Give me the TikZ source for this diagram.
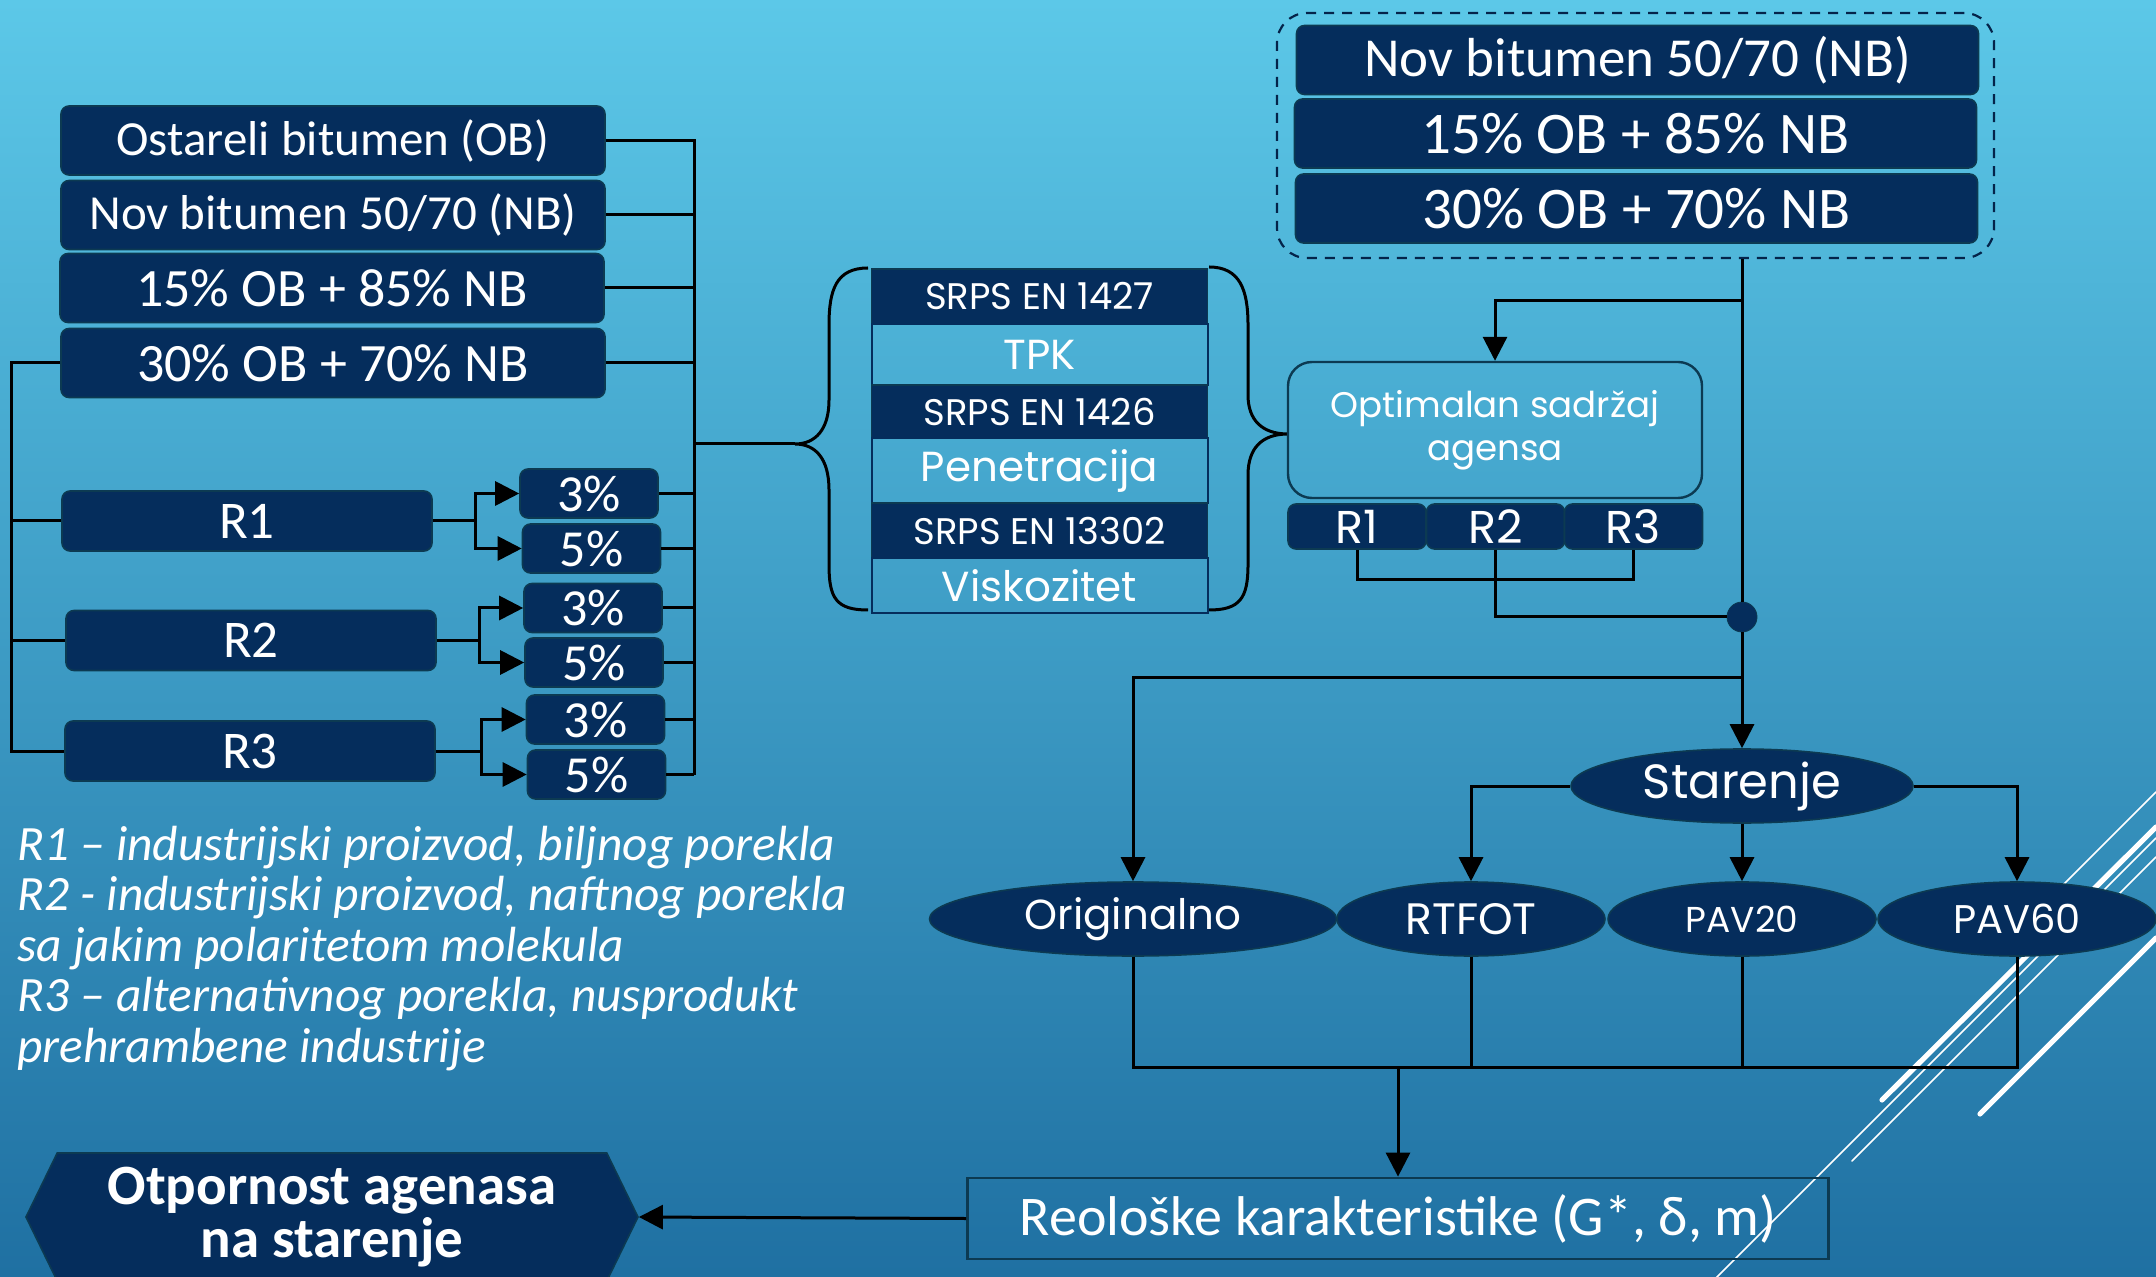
\documentclass[tikz,border=0pt]{standalone}
\usepackage{fontspec}
\setmainfont{Carlito}
\newfontfamily\geo{Poppins}
\usetikzlibrary{arrows.meta,shapes.geometric,shapes.symbols}
\definecolor{navy}{RGB}{5,45,92}
\definecolor{bordc}{RGB}{12,58,82}
\definecolor{bgtop}{RGB}{92,200,232}
\definecolor{bgbot}{RGB}{31,112,162}
\begin{document}
\begin{tikzpicture}[x=0.5pt,y=-0.5pt,
  navybox/.style={draw=bordc, fill=navy, text=white, rounded corners=4pt, inner sep=0pt, line width=0.8pt},
  leftbox/.style={navybox, minimum width=272pt, minimum height=34.5pt, font=\fontsize{24.5}{28}\selectfont},
  rbox/.style={navybox, minimum width=185pt, minimum height=30pt, font=\fontsize{26.5}{30}\selectfont},
  pbox/.style={navybox, minimum width=69pt, minimum height=24.5pt, font=\fontsize{26}{30}\selectfont},
  topbox/.style={navybox, minimum width=341pt, minimum height=34.5pt, font=\fontsize{29.5}{32}\selectfont},
  darkrow/.style={draw=bordc, fill=navy, text=white, inner sep=0pt, line width=0.8pt, minimum width=168pt, font=\geo\fontsize{18.5}{22}\selectfont},
  lightrow/.style={draw=navy, text=white, inner sep=0pt, line width=1pt, minimum width=168pt, font=\geo\fontsize{21}{24}\selectfont},
  ell/.style={ellipse, draw=bordc, fill=navy, text=white, inner sep=0pt, line width=0.8pt, minimum height=37pt},
  conn/.style={line width=1.5pt},
  arr/.style={conn, -{Triangle[length=12pt,width=12pt]}},
  deco/.style={white, line cap=round},
  legend/.style={text=white, inner sep=0pt, font=\itshape\fontsize{24.7}{26}\selectfont},
]
% background
\shade[top color=bgtop, bottom color=bgbot] (0,0) rectangle (2156,1277);
\useasboundingbox (0,0) rectangle (2156,1277);

% decorative lines
\draw[deco, line width=0.8pt] (2156,792) -- (2030,918);
\draw[deco, line width=2.6pt] (2156,827) -- (1882,1100);
\draw[deco, line width=0.8pt] (2156,838) -- (1712,1282);
\draw[deco, line width=0.8pt] (2156,857) -- (1852,1161);
\draw[deco, line width=2.6pt] (2156,938) -- (1980,1114);

% left column
\node[leftbox] (ob) at (333,140.5) {Ostareli bitumen (OB)};
\node[leftbox] (nb) at (333,215) {Nov bitumen 50/70 (NB)};
\node[leftbox, font=\fontsize{27}{30}\selectfont] (p15) at (332,288) {15\% OB + 85\% NB};
\node[leftbox, font=\fontsize{27}{30}\selectfont] (p30) at (333,363) {30\% OB + 70\% NB};

\node[rbox] (r1) at (247,521) {R1};
\node[rbox] (r2) at (251,640.5) {R2};
\node[rbox] (r3) at (250,751) {R3};

\node[pbox] (r1a) at (589,493.5) {3\%};
\node[pbox] (r1b) at (591.5,548.5) {5\%};
\node[pbox] (r2a) at (593,608) {3\%};
\node[pbox] (r2b) at (594,662.5) {5\%};
\node[pbox] (r3a) at (595.5,719.5) {3\%};
\node[pbox] (r3b) at (596.5,774.5) {5\%};

\coordinate (busR) at (694,444);
\coordinate (busL) at (11,363);
\coordinate (j1) at (475,521);
\coordinate (j2) at (479,640.5);
\coordinate (j3) at (481,751);
\coordinate (lbt) at (795,444);
\coordinate (rbt) at (1288,434);

\draw[conn] (ob.east) -| (r3b.east -| busR);
\draw[conn] (r3b.east) -- (r3b.east -| busR);
\foreach \n in {nb,p15,p30,r1a,r1b,r2a,r2b,r3a}{
  \draw[conn] (\n.east) -- (\n.east -| busR);
}
\draw[conn] (busR) -- (lbt);

\draw[conn] (p30.west) -| (busL |- r3.west) -- (r3.west);
\draw[conn] (r1.west) -- (r1.west -| busL);
\draw[conn] (r2.west) -- (r2.west -| busL);

\draw[conn] (r1.east) -- (j1);
\draw[arr] (j1) |- (r1a.west);
\draw[arr] (j1) |- (r1b.west);
\draw[conn] (r2.east) -- (j2);
\draw[arr] (j2) |- (r2a.west);
\draw[arr] (j2) |- (r2b.west);
\draw[conn] (r3.east) -- (j3);
\draw[arr] (j3) |- (r3a.west);
\draw[arr] (j3) |- (r3b.west);

% braces
\draw[conn] (868,268) .. controls (836,268) and (829,290) .. (829,325) -- (829,400)
  .. controls (829,430) and (815,444) .. (lbt)
  .. controls (815,444) and (829,458) .. (829,490) -- (829,565)
  .. controls (829,598) and (836,610) .. (868,610);
\draw[conn] (1209,267) .. controls (1240,267) and (1248,290) .. (1248,325) -- (1248,395)
  .. controls (1248,420) and (1262,434) .. (rbt)
  .. controls (1262,434) and (1248,448) .. (1248,475) -- (1248,565)
  .. controls (1248,598) and (1240,610) .. (1209,610);

% table
\node[darkrow, minimum height=27.5pt] (t1) at (1039.5,296.5) {SRPS EN 1427};
\node[lightrow, minimum height=30.5pt] (t2) at (1039.5,354.5) {TPK};
\node[darkrow, minimum height=26.5pt] (t3) at (1039.5,411.5) {SRPS EN 1426};
\node[lightrow, minimum height=32.5pt] (t4) at (1039.5,470.5) {Penetracija};
\node[darkrow, minimum height=27.5pt] (t5) at (1039.5,530.5) {SRPS EN 13302};
\node[lightrow, minimum height=27.5pt] (t6) at (1039.5,585.5) {Viskozitet};

% optimal content
\node[draw=bordc, line width=1.2pt, rounded corners=12pt, minimum width=207pt, minimum height=68pt, inner sep=0pt, text=white, align=center, font=\geo\fontsize{17.8}{21.5}\selectfont] (opt) at (1495,430) {Optimalan sadržaj\\agensa};
\node[navybox, minimum width=69pt, minimum height=22.5pt, font=\geo\fontsize{23}{24}\selectfont] (oR1) at (1357,526.5) {R1};
\node[navybox, minimum width=69pt, minimum height=22.5pt, font=\geo\fontsize{23}{24}\selectfont] (oR2) at (1495.5,526.5) {R2};
\node[navybox, minimum width=69pt, minimum height=22.5pt, font=\geo\fontsize{23}{24}\selectfont] (oR3) at (1633.5,526.5) {R3};
\node[circle, fill=navy, draw=bordc, inner sep=0pt, minimum size=15pt] (dot) at (1742,617) {};
\draw[conn] (oR1.south) -- ++(0,30) -| (oR3.south);
\draw[conn] (oR2.south) |- (dot.west);

% top right group
\node[topbox, font=\fontsize{27.5}{30}\selectfont] (nbR) at (1637.5,60) {Nov bitumen 50/70 (NB)};
\node[topbox] (p15R) at (1635.5,133.5) {15\% OB + 85\% NB};
\node[topbox] (p30R) at (1636.5,208.5) {30\% OB + 70\% NB};
\node[draw=navy!80!black, dash pattern=on 5pt off 4pt, line width=1.1pt, rounded corners=15pt, minimum width=358.5pt, minimum height=122.5pt] (grp) at (1635.5,135.5) {};

% ellipses
\node[ell, minimum width=171pt, font=\geo\fontsize{24}{28}\selectfont] (star) at (1742,786) {Starenje};
\node[ell, minimum width=203.5pt, font=\geo\fontsize{21}{26}\selectfont] (orig) at (1133,919) {Originalno};
\node[ell, minimum width=134pt, font=\geo\fontsize{22}{26}\selectfont] (rtfot) at (1471,919) {RTFOT};
\node[ell, minimum width=134pt, font=\geo\fontsize{18}{22}\selectfont] (pav20) at (1742,919) {PAV20};
\node[ell, minimum width=139pt, font=\geo\fontsize{20}{24}\selectfont] (pav60) at (2017,919) {PAV60};

\coordinate (b1) at (1742,301);
\coordinate (b2) at (1742,677);
\coordinate (bl) at (1398,1067);

\draw[conn] (grp.south -| dot) -- (dot);
\draw[arr] (b1) -| (opt.north);
\draw[arr] (dot) -- (star.north);
\draw[arr] (b2) -| (orig.north);
\draw[arr] (star.west) -| (rtfot.north);
\draw[arr] (star.east) -| (pav60.north);
\draw[arr] (star.south) -- (pav20.north);

% results
\node[draw=bordc, line width=1.4pt, minimum width=430.5pt, minimum height=40.5pt, inner sep=0pt, text=white, font=\fontsize{28}{30}\selectfont] (reo) at (1398,1218.5) {Reološke karakteristike (G*, δ, m)};
\draw[conn] (orig.south) |- (bl);
\draw[conn] (pav60.south) |- (bl);
\draw[conn] (rtfot.south) -- (rtfot.south |- bl);
\draw[conn] (pav20.south) -- (pav20.south |- bl);
\draw[arr] (bl) -- (reo.north);

\node[signal, signal to=west and east, signal pointer angle=128, fill=navy, draw=bordc, line width=0.8pt, minimum width=306pt, minimum height=64pt, inner sep=0pt, text=white, align=center, font=\bfseries\fontsize{28.5}{26.5}\selectfont] (hex) at (332,1217) {Otpornost agenasa\\na starenje};
\draw[arr] (reo.west) -- (hex.east);

% legend
\node[legend, anchor=base west] (lg1) at (17,860) {R1 – industrijski proizvod, biljnog porekla};
\node[legend, anchor=base west] (lg2) at (17,910.5) {R2 - industrijski proizvod, naftnog porekla};
\node[legend, anchor=base west] (lg3) at (17,961) {sa jakim polaritetom molekula};
\node[legend, anchor=base west] (lg4) at (17,1011.5) {R3 – alternativnog porekla, nusprodukt};
\node[legend, anchor=base west] (lg5) at (17,1062) {prehrambene industrije};
\end{tikzpicture}
\end{document}
